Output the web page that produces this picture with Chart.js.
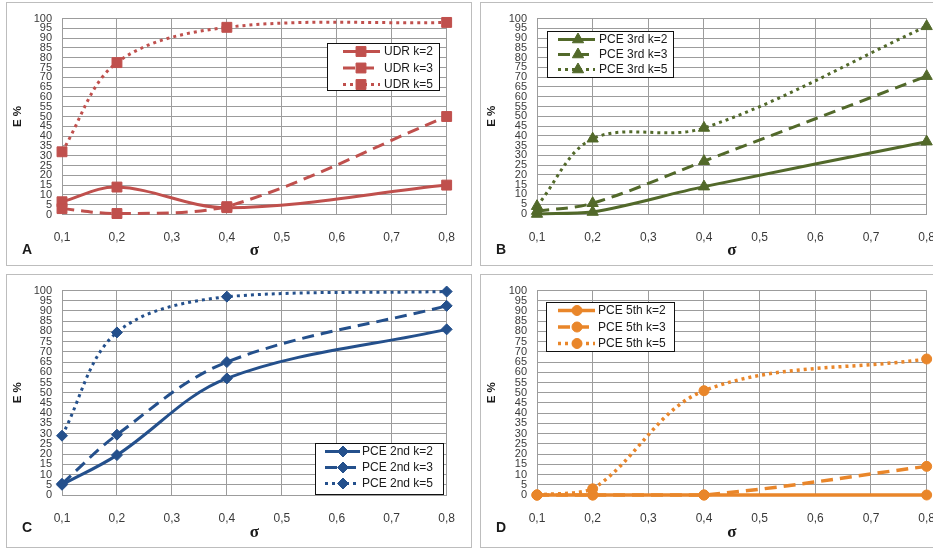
<!DOCTYPE html>
<html>
<head>
<meta charset="utf-8">
<script src="https://cdn.jsdelivr.net/npm/chart.js@4.4.1/dist/chart.umd.min.js"></script>
<style>
  body { margin: 0; width: 933px; height: 549px; overflow: hidden; background: #fff; position: relative; }
  .panel { position: absolute; border: 1px solid #bdbdbd; background: #fff; }
  .panel canvas { position: absolute; left: 0; top: 0; }
  .letter { position: absolute; font: bold 14px "Liberation Sans", Arial, sans-serif; color: #1a1a1a; }
</style>
</head>
<body>
<div class="panel" style="left:6px;top:2px;width:464px;height:262px"><canvas id="chartA"></canvas></div>
<div class="panel" style="left:480px;top:2px;width:470px;height:262px"><canvas id="chartB"></canvas></div>
<div class="panel" style="left:6px;top:274px;width:464px;height:272px"><canvas id="chartC"></canvas></div>
<div class="panel" style="left:480px;top:274px;width:470px;height:272px"><canvas id="chartD"></canvas></div>
<div class="letter" style="left:22px;top:241px">A</div>
<div class="letter" style="left:496px;top:241px">B</div>
<div class="letter" style="left:22px;top:519px">C</div>
<div class="letter" style="left:496px;top:519px">D</div>

<script>
// sigma values on the x axis
const sigma = [0.1, 0.2, 0.4, 0.8];

// A - UDR
const udrK2 = [6.5, 14, 3.5, 15];
const udrK3 = [3, 0.5, 4, 50];
const udrK5 = [32, 77.5, 95.5, 98];

// B - PCE 3rd
const pce3K2 = [0, 1, 14, 37];
const pce3K3 = [1.5, 5.5, 27, 70.5];
const pce3K5 = [4, 38.5, 44, 96];

// C - PCE 2nd
const pce2K2 = [5, 19.5, 57, 81];
const pce2K3 = [5.5, 29.5, 65, 92.5];
const pce2K5 = [29, 79.5, 97, 99.5];

// D - PCE 5th
const pce5K2 = [0, 0, 0, 0];
const pce5K3 = [0, 0, 0, 14];
const pce5K5 = [0, 3, 51, 66.5];

const kLabels = ["k=2", "k=3", "k=5"];
const dashes = [[], [12, 7], [3, 4]];

const gridColor = "#9c9c9c";
const tickColor = "#3a3a3a";

// legend drawn as an Excel-style box inside the plot area
const boxLegend = {
  id: "boxLegend",
  afterDatasetsDraw(chart, args, opts) {
    const { ctx, chartArea } = chart;
    const x = Math.round(chartArea.left + opts.x);
    const y = Math.round(chartArea.top + opts.y);
    ctx.save();
    ctx.fillStyle = "#fff";
    ctx.fillRect(x, y, opts.w, opts.h);
    ctx.strokeStyle = "#111";
    ctx.lineWidth = 1;
    ctx.setLineDash([]);
    ctx.strokeRect(x + 0.5, y + 0.5, opts.w, opts.h);
    chart.data.datasets.forEach((ds, i) => {
      const cy = y + opts.first + i * opts.gap;
      ctx.strokeStyle = ds.borderColor;
      ctx.lineWidth = ds.borderWidth;
      ctx.setLineDash(ds.borderDash || []);
      ctx.beginPath();
      ctx.moveTo(x + opts.lineFrom, cy);
      ctx.lineTo(x + opts.lineTo, cy);
      ctx.stroke();
      ctx.setLineDash([]);
      ctx.lineWidth = 1;
      ctx.fillStyle = ds.pointBackgroundColor;
      ctx.strokeStyle = ds.pointBackgroundColor;
      Chart.helpers.drawPoint(ctx, { pointStyle: ds.pointStyle, radius: ds.pointRadius, rotation: 0, borderWidth: 1 }, x + opts.marker, cy);
      ctx.fillStyle = "#1a1a1a";
      ctx.font = "12px 'Liberation Sans', Arial, sans-serif";
      ctx.textBaseline = "middle";
      ctx.textAlign = "left";
      ctx.fillText(ds.label, x + opts.text, cy + 0.5);
    });
    ctx.restore();
  }
};

function makePanel(id, prefix, series, color, pointStyle, radius, width, pad, legend) {
  const datasets = series.map((vals, i) => ({
    label: prefix + " " + kLabels[i],
    data: sigma.map((s, j) => ({ x: s, y: vals[j] })),
    borderColor: color,
    backgroundColor: color,
    pointBackgroundColor: color,
    pointBorderColor: color,
    pointBorderWidth: 1,
    borderWidth: width,
    borderDash: dashes[i],
    borderCapStyle: "butt",
    pointStyle: pointStyle,
    pointRadius: radius,
    tension: 0.35,
    clip: false,
    order: 3 - i
  }));

  new Chart(document.getElementById(id), {
    type: "line",
    data: { datasets },
    plugins: [boxLegend],
    options: {
      responsive: false,
      animation: false,
      events: [],
      layout: { padding: { left: 0, top: pad.top, right: pad.right, bottom: 0 } },
      plugins: { legend: { display: false }, tooltip: { enabled: false }, boxLegend: legend },
      scales: {
        x: {
          type: "linear",
          min: 0.1,
          max: 0.8,
          afterFit: (s) => { s.height = pad.bottom; },
          ticks: {
            stepSize: 0.1,
            padding: 16,
            color: tickColor,
            font: { family: "'Liberation Sans', Arial, sans-serif", size: 12 },
            callback: (v) => v.toFixed(1).replace(".", ",")
          },
          grid: { color: gridColor, lineWidth: 1, drawTicks: false },
          border: { color: gridColor },
          title: {
            display: true,
            text: "σ",
            color: "#1a1a1a",
            font: { family: "'Liberation Serif', serif", size: 17, weight: "bold" },
            padding: { top: 0, bottom: 4 }
          }
        },
        y: {
          min: 0,
          max: 100,
          afterFit: (s) => { s.width = pad.left; },
          ticks: {
            stepSize: 5,
            autoSkip: false,
            padding: 10,
            color: tickColor,
            font: { family: "'Liberation Sans', Arial, sans-serif", size: 11, lineHeight: 1 }
          },
          grid: { color: gridColor, lineWidth: 1, drawTicks: false },
          border: { color: gridColor },
          title: {
            display: true,
            text: "E %",
            color: "#1a1a1a",
            font: { family: "'Liberation Sans', Arial, sans-serif", size: 11.5, weight: "bold" },
            padding: { top: 4, bottom: 0 }
          }
        }
      }
    }
  });
}

function sizeCanvas(id, w, h) {
  const c = document.getElementById(id);
  c.width = w; c.height = h;
  c.style.width = w + "px"; c.style.height = h + "px";
}
sizeCanvas("chartA", 464, 262);
sizeCanvas("chartB", 470, 262);
sizeCanvas("chartC", 464, 272);
sizeCanvas("chartD", 470, 272);

makePanel("chartA", "UDR", [udrK2, udrK3, udrK5], "#c0504d", "rect", 7, 3,
  { left: 55, top: 10, right: 19, bottom: 50.5 },
  { x: 265, y: 24, w: 112, h: 47, first: 8.5, gap: 16.5, lineFrom: 16, lineTo: 53, marker: 34, text: 57 });

makePanel("chartB", "PCE 3rd", [pce3K2, pce3K3, pce3K5], "#52692a", "triangle", 6.5, 3,
  { left: 56, top: 10, right: 24, bottom: 51 },
  { x: 10, y: 12, w: 126, h: 46, first: 8.5, gap: 15, lineFrom: 11, lineTo: 48, marker: 31, text: 52 });

makePanel("chartC", "PCE 2nd", [pce2K2, pce2K3, pce2K5], "#24508c", "rectRot", 5.5, 3,
  { left: 55, top: 12, right: 19, bottom: 52 },
  { x: 253, y: 152, w: 128, h: 51, first: 8.5, gap: 16, lineFrom: 10, lineTo: 45, marker: 28, text: 47 });

makePanel("chartD", "PCE 5th", [pce5K2, pce5K3, pce5K5], "#e9862a", "circle", 5, 3.5,
  { left: 56, top: 12, right: 24, bottom: 52 },
  { x: 9, y: 11, w: 128, h: 49, first: 8.5, gap: 16.5, lineFrom: 12, lineTo: 49, marker: 31, text: 52 });
</script>
</body>
</html>
